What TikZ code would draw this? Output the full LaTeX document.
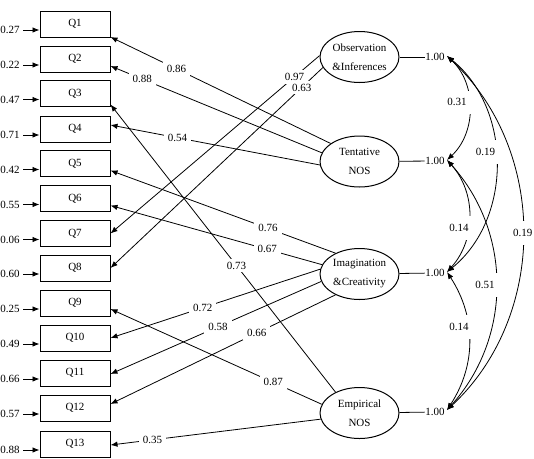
\documentclass[tikz,border=0pt]{standalone}
\usepackage{fontspec}
\setmainfont{Liberation Serif}
\usetikzlibrary{arrows.meta,shapes.geometric,calc}
\tikzset{
  item/.style={draw, line width=1pt, minimum width=70pt, minimum height=26pt, inner sep=0pt},
  factor/.style={draw, ellipse, line width=1pt, minimum width=79pt, minimum height=51pt, inner sep=0pt, align=center, font=\fontsize{11}{19}\selectfont},
  load/.style={line width=0.8pt, -{Latex[length=7pt,width=5.5pt]}},
  cov/.style={line width=0.8pt, {Latex[length=7pt,width=5.5pt]}-{Latex[length=7pt,width=5.5pt]}},
  lbl/.style={fill=white, inner xsep=4pt, inner ysep=3pt},
  clbl/.style={fill=white, inner xsep=6pt, inner ysep=8pt},
}
\begin{document}
\begin{tikzpicture}[x=1pt, y=-1pt, every node/.style={font=\fontsize{11}{13}\selectfont}]
\useasboundingbox (0,0) rectangle (534,458);
% observed items
\node[item] (Q1) at (75,24) {Q1};
\node[item] (Q2) at (75,59) {Q2};
\node[item] (Q3) at (75,93.5) {Q3};
\node[item] (Q4) at (75,129) {Q4};
\node[item] (Q5) at (75,163.5) {Q5};
\node[item] (Q6) at (75,198.5) {Q6};
\node[item] (Q7) at (75,233.5) {Q7};
\node[item] (Q8) at (75,268) {Q8};
\node[item] (Q9) at (75,303) {Q9};
\node[item] (Q10) at (75,338) {Q10};
\node[item] (Q11) at (75,373) {Q11};
\node[item] (Q12) at (75,408) {Q12};
\node[item] (Q13) at (75,444) {Q13};
% error terms
\node (e1) at (10,30) {0.27};
\node (e2) at (10,65) {0.22};
\node (e3) at (10,99.5) {0.47};
\node (e4) at (10,135) {0.71};
\node (e5) at (10,169.5) {0.42};
\node (e6) at (10,204.5) {0.55};
\node (e7) at (10,239.5) {0.06};
\node (e8) at (10,274) {0.60};
\node (e9) at (10,309) {0.25};
\node (e10) at (10,344) {0.49};
\node (e11) at (10,379) {0.66};
\node (e12) at (10,414) {0.57};
\node (e13) at (10,450) {0.88};
\draw[load] (e1.east) -- (e1.east -| Q1.west);
\draw[load] (e2.east) -- (e2.east -| Q2.west);
\draw[load] (e3.east) -- (e3.east -| Q3.west);
\draw[load] (e4.east) -- (e4.east -| Q4.west);
\draw[load] (e5.east) -- (e5.east -| Q5.west);
\draw[load] (e6.east) -- (e6.east -| Q6.west);
\draw[load] (e7.east) -- (e7.east -| Q7.west);
\draw[load] (e8.east) -- (e8.east -| Q8.west);
\draw[load] (e9.east) -- (e9.east -| Q9.west);
\draw[load] (e10.east) -- (e10.east -| Q10.west);
\draw[load] (e11.east) -- (e11.east -| Q11.west);
\draw[load] (e12.east) -- (e12.east -| Q12.west);
\draw[load] (e13.east) -- (e13.east -| Q13.west);
% latent factors
\node[factor] (obs) at (359.5,57) {Observation\\\&Inferences};
\node[factor] (tent) at (359.5,161.5) {Tentative\\NOS};
\node[factor] (imag) at (359.5,274) {Imagination\\\&Creativity};
\node[factor] (emp) at (359.5,413) {Empirical\\NOS};
% loadings
\draw[load] (obs.178) -- node[lbl, pos=0.12] {0.97} (Q7.east);
\draw[load] (obs.196) -- node[lbl, pos=0.1] {0.63} (Q8.east);
\draw[load] (tent.148) -- node[lbl, pos=0.70] {0.86} ([yshift=-13pt]Q1.east);
\draw[load] (tent.167) -- node[lbl, pos=0.85] {0.88} ([yshift=-7pt]Q2.east);
\draw[load] (tent.185) -- node[lbl, pos=0.68] {0.54} ([yshift=4pt]Q4.east);
\draw[load] (imag.139) -- node[lbl, pos=0.30] {0.76} ([yshift=-7pt]Q5.east);
\draw[load] (imag.166) -- node[lbl, pos=0.26] {0.67} ([yshift=-7pt]Q6.east);
\draw[load] (imag.173) -- node[lbl, pos=0.56] {0.72} (Q10.east);
\draw[load] (imag.191) -- node[lbl, pos=0.49] {0.58} ([yshift=-1pt]Q11.east);
\draw[load] (imag.221) -- node[lbl, pos=0.35] {0.66} ([yshift=4pt]Q12.east);
\draw[load] (emp.139) -- node[lbl, pos=0.44] {0.73} ([yshift=-11pt]Q3.east);
\draw[load] (emp.167) -- node[lbl, pos=0.23] {0.87} ([yshift=-6pt]Q9.east);
\draw[load] (emp.189) -- node[lbl, pos=0.80] {0.35} ([yshift=-1pt]Q13.east);
% variances
\node[inner sep=0.5pt] (v1) at (435,57) {1.00};
\node[inner sep=0.5pt] (v2) at (435,161) {1.00};
\node[inner sep=0.5pt] (v3) at (435,273) {1.00};
\node[inner sep=0.5pt] (v4) at (435,412) {1.00};
\draw[line width=0.8pt] (obs) -- (v1);
\draw[line width=0.8pt] (tent) -- (v2);
\draw[line width=0.8pt] (imag) -- (v3);
\draw[line width=0.8pt] (emp) -- (v4);
\coordinate (c1) at (447,56);
\coordinate (c2) at (447,160);
\coordinate (c3) at (447,272);
\coordinate (c4) at (447,410);
% covariances
\draw[cov] (c1) to[bend left=47] node[clbl, pos=0.45, xshift=-12pt] {0.31} (c2);
\draw[cov] (c1) to[bend left=51] node[clbl, pos=0.45, xshift=-10pt] {0.19} (c3);
\draw[cov] (c1) to[bend left=47] node[clbl] {0.19} (c4);
\draw[cov] (c2) to[bend left=42] node[clbl, pos=0.6, xshift=-9pt] {0.14} (c3);
\draw[cov] (c2) to[bend left=42] node[clbl, xshift=-11pt] {0.51} (c4);
\draw[cov] (c3) to[bend left=33] node[clbl, pos=0.4, xshift=-9pt] {0.14} (c4);
\end{tikzpicture}
\end{document}
